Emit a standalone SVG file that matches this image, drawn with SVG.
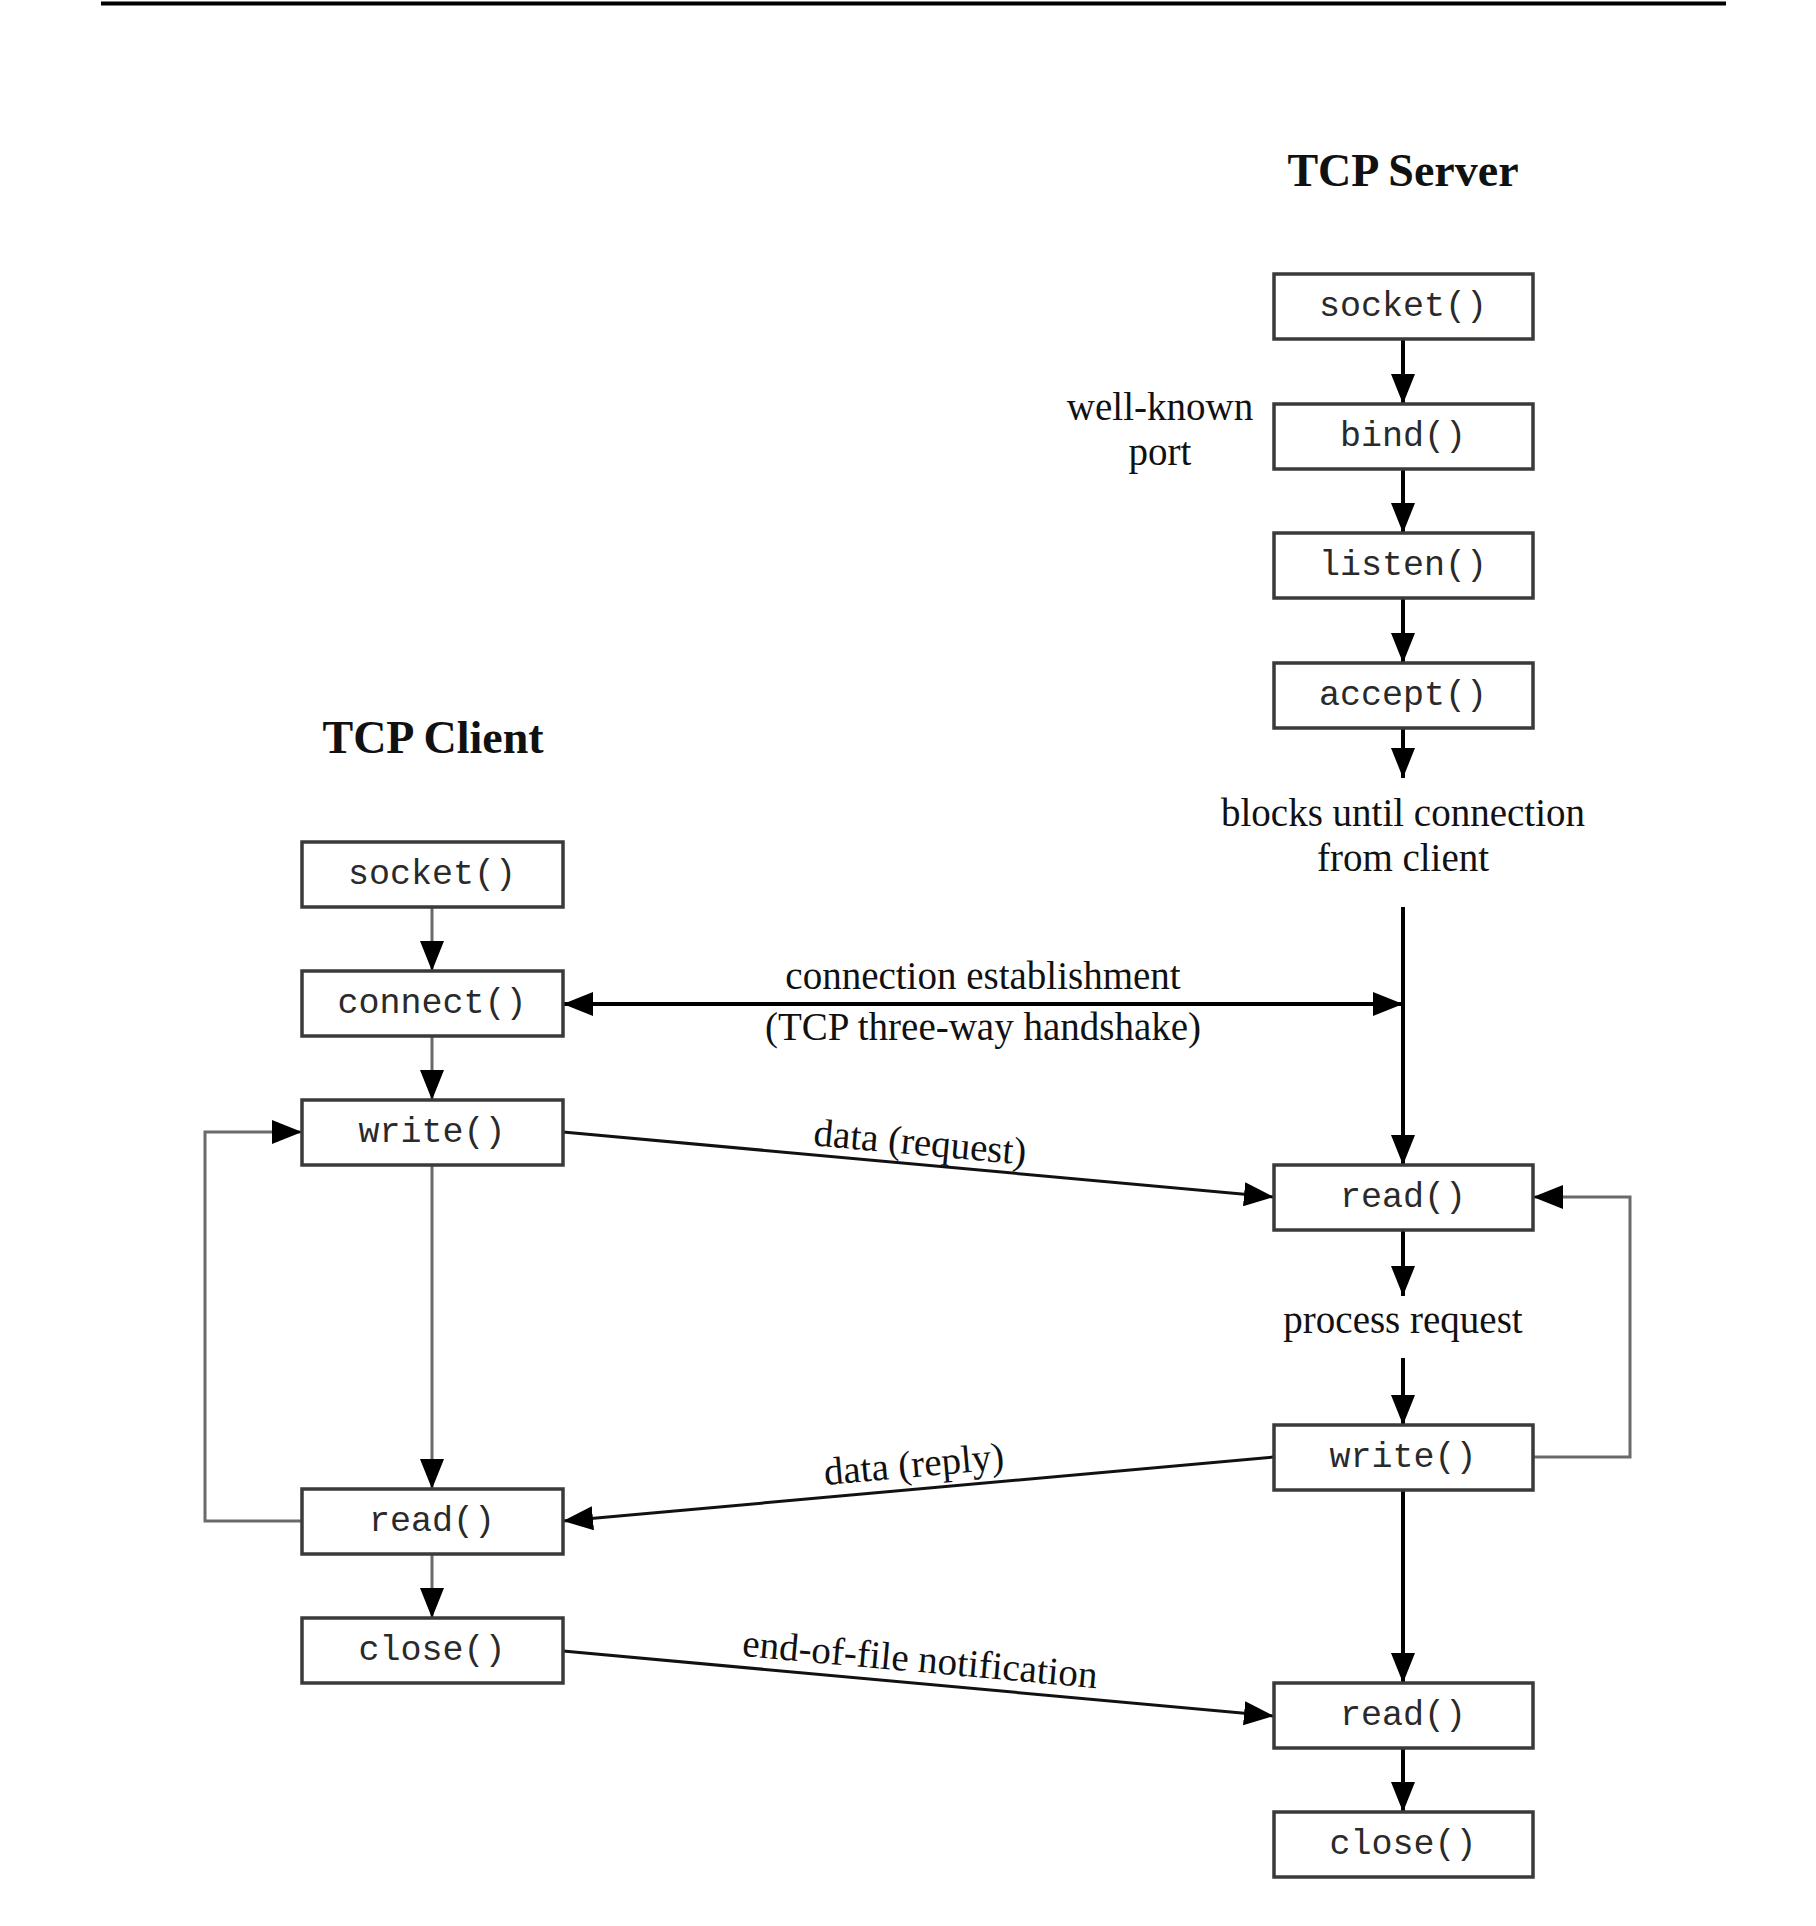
<svg xmlns="http://www.w3.org/2000/svg" width="1816" height="1926" viewBox="0 0 1816 1926">
<style>
.box{fill:#fff;stroke:#3a3a3a;stroke-width:3.5}
.fn{font-family:"Liberation Mono","DejaVu Sans Mono",monospace;font-size:35px;fill:#2a2a2a;text-anchor:middle}
.lbl{font-family:"Liberation Serif","DejaVu Serif",serif;font-size:39px;fill:#111;text-anchor:middle}
.title{font-family:"Liberation Serif","DejaVu Serif",serif;font-size:46px;font-weight:bold;fill:#111;text-anchor:middle}
.k{fill:none;stroke:#000;stroke-width:4}
.g{fill:none;stroke:#6a6a6a;stroke-width:3}
.d{fill:none;stroke:#111;stroke-width:3}
</style>
<defs>
<marker id="ah" markerWidth="30" markerHeight="24" refX="30" refY="12" orient="auto-start-reverse" markerUnits="userSpaceOnUse"><path d="M0,0 L30,12 L0,24 z" fill="#000"/></marker>
</defs>
<rect width="1816" height="1926" fill="#fff"/>
<line x1="101" y1="3.5" x2="1726" y2="3.5" stroke="#000" stroke-width="4"/>
<text class="title" x="1403" y="186">TCP Server</text>
<text class="title" x="433" y="753">TCP Client</text>

<g id="connectors">
<line class="k" x1="1403" y1="339" x2="1403" y2="404" marker-end="url(#ah)"/>
<line class="k" x1="1403" y1="469" x2="1403" y2="533" marker-end="url(#ah)"/>
<line class="k" x1="1403" y1="598" x2="1403" y2="663" marker-end="url(#ah)"/>
<line class="k" x1="1403" y1="729" x2="1403" y2="778" marker-end="url(#ah)"/>
<line class="k" x1="1403" y1="907" x2="1403" y2="1165" marker-end="url(#ah)"/>
<line class="k" x1="1403" y1="1230" x2="1403" y2="1296" marker-end="url(#ah)"/>
<line class="k" x1="1403" y1="1358" x2="1403" y2="1425" marker-end="url(#ah)"/>
<line class="k" x1="1403" y1="1490" x2="1403" y2="1683" marker-end="url(#ah)"/>
<line class="k" x1="1403" y1="1748" x2="1403" y2="1812" marker-end="url(#ah)"/>
<path class="g" d="M1533,1457 H1630 V1197 H1533" marker-end="url(#ah)"/>

<line class="g" x1="432" y1="907" x2="432" y2="971" marker-end="url(#ah)"/>
<line class="g" x1="432" y1="1036" x2="432" y2="1100" marker-end="url(#ah)"/>
<line class="g" x1="432" y1="1165" x2="432" y2="1489" marker-end="url(#ah)"/>
<line class="g" x1="432" y1="1554" x2="432" y2="1618" marker-end="url(#ah)"/>
<path class="g" d="M302,1521 H205 V1132 H302" marker-end="url(#ah)"/>

<line class="k" x1="563" y1="1004" x2="1403" y2="1004" marker-start="url(#ah)" marker-end="url(#ah)"/>
<line class="d" x1="563" y1="1132" x2="1274" y2="1197" marker-end="url(#ah)"/>
<line class="d" x1="1274" y1="1457" x2="563" y2="1521" marker-end="url(#ah)"/>
<line class="d" x1="563" y1="1651" x2="1274" y2="1716" marker-end="url(#ah)"/>
</g>

<g id="labels">
<text class="lbl" x="1160" y="420">well-known</text>
<text class="lbl" x="1160" y="465">port</text>
<text class="lbl" x="1403" y="826">blocks until connection</text>
<text class="lbl" x="1403" y="871">from client</text>
<text class="lbl" x="983" y="989">connection establishment</text>
<text class="lbl" x="983" y="1040">(TCP three-way handshake)</text>
<text class="lbl" x="1403" y="1333">process request</text>
<text class="lbl" transform="translate(919,1155) rotate(5.2)">data (request)</text>
<text class="lbl" transform="translate(915,1477) rotate(-5.1)">data (reply)</text>
<text class="lbl" transform="translate(919,1672) rotate(5.2)">end-of-file notification</text>
</g>

<g id="srv-socket"><rect class="box" x="1274" y="274" width="259" height="65"/><text class="fn" x="1403" y="316">socket()</text></g>
<g id="srv-bind"><rect class="box" x="1274" y="404" width="259" height="65"/><text class="fn" x="1403" y="446">bind()</text></g>
<g id="srv-listen"><rect class="box" x="1274" y="533" width="259" height="65"/><text class="fn" x="1403" y="575">listen()</text></g>
<g id="srv-accept"><rect class="box" x="1274" y="663" width="259" height="65"/><text class="fn" x="1403" y="705">accept()</text></g>
<g id="srv-read"><rect class="box" x="1274" y="1165" width="259" height="65"/><text class="fn" x="1403" y="1207">read()</text></g>
<g id="srv-write"><rect class="box" x="1274" y="1425" width="259" height="65"/><text class="fn" x="1403" y="1467">write()</text></g>
<g id="srv-read2"><rect class="box" x="1274" y="1683" width="259" height="65"/><text class="fn" x="1403" y="1725">read()</text></g>
<g id="srv-close"><rect class="box" x="1274" y="1812" width="259" height="65"/><text class="fn" x="1403" y="1854">close()</text></g>

<g id="cli-socket"><rect class="box" x="302" y="842" width="261" height="65"/><text class="fn" x="432" y="884">socket()</text></g>
<g id="cli-connect"><rect class="box" x="302" y="971" width="261" height="65"/><text class="fn" x="432" y="1013">connect()</text></g>
<g id="cli-write"><rect class="box" x="302" y="1100" width="261" height="65"/><text class="fn" x="432" y="1142">write()</text></g>
<g id="cli-read"><rect class="box" x="302" y="1489" width="261" height="65"/><text class="fn" x="432" y="1531">read()</text></g>
<g id="cli-close"><rect class="box" x="302" y="1618" width="261" height="65"/><text class="fn" x="432" y="1660">close()</text></g>
</svg>
